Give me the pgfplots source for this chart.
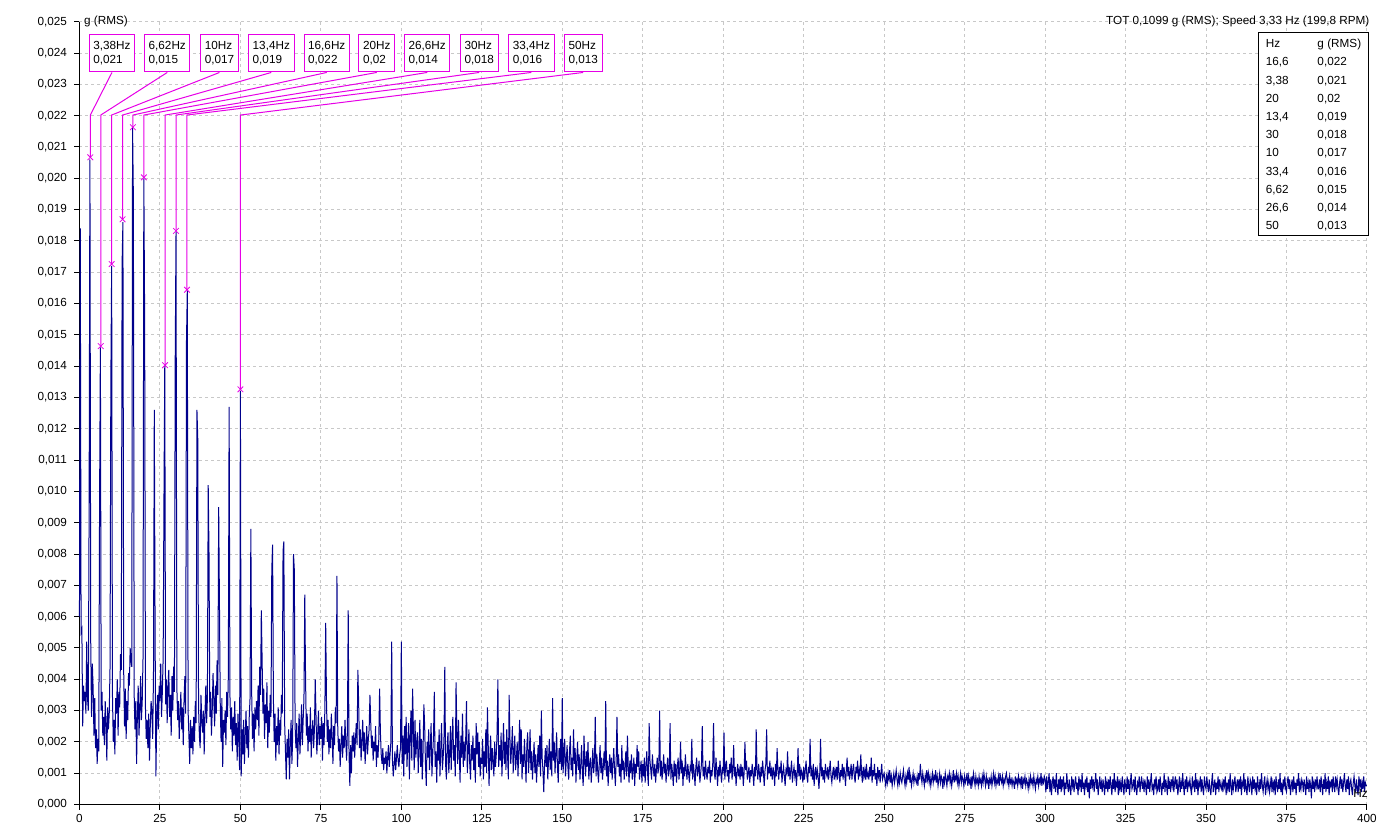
\documentclass[border=0pt]{standalone}
\usepackage{pgfplots}
\usepackage{pgfplotstable}
\pgfplotsset{compat=1.18}
\usepackage{fontspec}
\setmainfont{Liberation Sans}
\definecolor{specblue}{RGB}{0,0,140}
\definecolor{mag}{RGB}{230,0,230}
\definecolor{gridc}{RGB}{200,200,200}
\newcommand\cf{\fontsize{8.8}{10.7}\selectfont}
% spectrum, 0.25 Hz bins from 0 to 400 Hz, values in units of 1e-4 g (RMS)
\pgfplotstableread[row sep=\\]{
y\\
60\\184\\55\\56\\25\\38\\33\\36\\29\\52\\34\\30\\95\\206\\52\\28\\45\\37\\22\\34\\
18\\24\\13\\21\\17\\97\\146\\30\\36\\22\\28\\19\\33\\26\\14\\31\\24\\29\\44\\135\\
172\\35\\20\\27\\16\\34\\29\\40\\22\\36\\31\\48\\43\\173\\186\\42\\25\\37\\21\\33\\
27\\42\\38\\50\\46\\44\\216\\194\\35\\24\\33\\13\\29\\38\\22\\30\\41\\27\\33\\47\\
200\\155\\31\\21\\27\\18\\29\\14\\25\\33\\30\\21\\42\\126\\54\\9\\27\\35\\24\\38\\
33\\45\\28\\36\\47\\97\\140\\32\\40\\26\\38\\43\\28\\35\\22\\41\\30\\44\\36\\142\\
183\\38\\27\\33\\21\\29\\36\\24\\31\\19\\34\\41\\29\\148\\164\\30\\22\\13\\27\\18\\
25\\16\\28\\20\\33\\26\\126\\117\\31\\22\\18\\35\\27\\23\\30\\16\\29\\38\\26\\34\\
102\\80\\28\\36\\22\\30\\42\\33\\25\\38\\29\\46\\35\\95\\63\\31\\20\\34\\12\\27\\
23\\30\\19\\36\\28\\41\\127\\35\\24\\31\\17\\28\\22\\33\\19\\26\\14\\29\\21\\11\\
132\\9\\24\\16\\27\\13\\22\\30\\18\\25\\15\\28\\34\\88\\36\\21\\29\\17\\31\\24\\
33\\27\\38\\22\\44\\35\\62\\46\\29\\37\\21\\32\\26\\39\\18\\30\\23\\35\\28\\75\\
83\\34\\20\\29\\14\\25\\19\\31\\16\\27\\22\\35\\29\\81\\84\\26\\17\\8\\21\\15\\
24\\8\\19\\27\\13\\22\\80\\75\\25\\18\\26\\12\\21\\29\\16\\23\\32\\19\\27\\34\\
67\\40\\22\\29\\17\\25\\20\\31\\15\\23\\27\\18\\24\\40\\28\\16\\22\\30\\19\\25\\
21\\28\\14\\26\\19\\31\\58\\33\\20\\27\\16\\24\\18\\29\\22\\13\\25\\19\\31\\26\\
73\\24\\17\\21\\12\\19\\25\\15\\22\\18\\27\\20\\14\\24\\62\\16\\6\\19\\10\\22\\
17\\23\\15\\21\\26\\19\\43\\32\\18\\24\\14\\20\\27\\17\\23\\13\\19\\25\\16\\21\\
24\\35\\26\\18\\22\\14\\20\\17\\25\\12\\19\\15\\21\\37\\23\\16\\13\\18\\11\\15\\
13\\17\\10\\15\\19\\12\\16\\20\\52\\14\\9\\13\\17\\11\\15\\19\\14\\12\\16\\18\\
52\\13\\22\\9\\25\\16\\28\\12\\19\\26\\8\\22\\30\\14\\37\\24\\11\\27\\15\\20\\
23\\10\\18\\27\\12\\21\\8\\17\\32\\25\\13\\6\\20\\15\\24\\11\\18\\26\\9\\16\\
22\\36\\12\\17\\7\\20\\14\\24\\9\\18\\26\\11\\15\\21\\44\\13\\8\\19\\23\\10\\
16\\25\\11\\21\\28\\14\\19\\9\\39\\23\\13\\27\\17\\7\\22\\15\\29\\12\\20\\14\\
21\\33\\10\\17\\24\\13\\8\\19\\14\\22\\11\\18\\7\\26\\16\\23\\12\\20\\9\\15\\
13\\21\\8\\17\\12\\24\\10\\31\\19\\6\\15\\22\\11\\18\\14\\9\\20\\12\\16\\23\\
40\\12\\19\\14\\23\\9\\17\\26\\13\\20\\11\\24\\16\\8\\35\\21\\13\\18\\25\\10\\
17\\22\\11\\15\\20\\9\\18\\27\\13\\24\\8\\16\\12\\21\\14\\7\\19\\23\\10\\15\\
24\\11\\17\\8\\14\\20\\10\\16\\7\\13\\19\\12\\22\\9\\30\\15\\11\\4\\13\\18\\
12\\19\\8\\15\\21\\11\\17\\9\\34\\14\\20\\10\\16\\23\\12\\7\\18\\13\\21\\11\\
34\\10\\16\\21\\9\\14\\19\\12\\8\\17\\22\\11\\15\\9\\24\\13\\18\\7\\14\\20\\
11\\16\\8\\13\\19\\10\\6\\22\\14\\9\\17\\12\\20\\8\\13\\15\\7\\12\\18\\10\\
14\\28\\9\\16\\11\\7\\13\\19\\10\\15\\8\\12\\17\\11\\33\\9\\14\\6\\12\\16\\
10\\15\\8\\13\\18\\11\\6\\14\\28\\12\\16\\9\\13\\7\\19\\11\\14\\8\\12\\17\\
9\\22\\12\\7\\14\\10\\16\\8\\11\\15\\6\\13\\10\\19\\12\\17\\8\\11\\14\\7\\
13\\9\\15\\7\\12\\17\\10\\6\\26\\14\\11\\8\\16\\12\\9\\13\\7\\11\\15\\10\\
12\\30\\9\\14\\8\\11\\16\\10\\13\\7\\12\\15\\9\\11\\26\\8\\13\\10\\6\\14\\
9\\13\\7\\12\\15\\8\\11\\20\\10\\14\\6\\12\\9\\16\\11\\8\\13\\10\\7\\12\\
11\\21\\8\\13\\10\\6\\12\\15\\9\\11\\14\\7\\10\\13\\25\\9\\12\\8\\14\\10\\
8\\12\\10\\14\\7\\11\\9\\13\\26\\10\\8\\15\\11\\6\\12\\9\\14\\10\\7\\12\\
10\\23\\8\\12\\14\\9\\11\\7\\13\\10\\15\\8\\11\\19\\9\\12\\6\\10\\13\\9\\
11\\8\\13\\9\\12\\6\\10\\20\\11\\14\\8\\10\\12\\7\\11\\9\\13\\10\\6\\12\\
9\\24\\11\\8\\13\\10\\7\\12\\9\\14\\10\\6\\11\\13\\24\\8\\12\\10\\14\\9\\
11\\8\\12\\10\\6\\13\\9\\18\\11\\8\\12\\10\\14\\7\\10\\12\\9\\6\\11\\10\\
17\\9\\12\\8\\11\\14\\7\\10\\12\\9\\11\\6\\10\\18\\9\\13\\8\\11\\10\\7\\
12\\8\\11\\14\\9\\7\\12\\10\\21\\9\\11\\8\\13\\6\\10\\12\\8\\11\\9\\5\\
10\\21\\9\\12\\8\\11\\7\\13\\10\\9\\12\\8\\11\\14\\9\\7\\10\\12\\8\\11\\
9\\12\\8\\14\\10\\7\\11\\9\\13\\8\\12\\10\\6\\11\\15\\9\\12\\8\\10\\13\\
8\\11\\13\\9\\7\\12\\10\\14\\8\\11\\9\\16\\10\\7\\12\\9\\11\\8\\13\\9\\
10\\8\\12\\9\\15\\7\\11\\9\\13\\8\\10\\6\\12\\9\\11\\7\\10\\13\\8\\9\\
10\\8\\6\\9\\7\\10\\8\\11\\7\\9\\6\\8\\10\\7\\9\\11\\8\\6\\9\\7\\
10\\8\\7\\9\\11\\8\\6\\9\\7\\10\\8\\12\\7\\9\\6\\8\\10\\7\\9\\8\\
7\\9\\6\\10\\8\\13\\9\\7\\10\\8\\6\\9\\7\\11\\8\\10\\7\\9\\6\\8\\
10\\7\\9\\8\\11\\7\\9\\6\\8\\10\\7\\9\\8\\5\\9\\7\\10\\8\\6\\9\\
8\\10\\7\\9\\6\\8\\11\\7\\9\\8\\10\\7\\9\\6\\8\\10\\7\\9\\8\\6\\
9\\7\\8\\10\\6\\9\\7\\8\\5\\9\\7\\10\\8\\6\\9\\7\\8\\6\\9\\7\\
8\\6\\9\\7\\10\\8\\6\\9\\7\\8\\5\\8\\7\\9\\6\\8\\10\\7\\9\\6\\
8\\7\\9\\6\\10\\8\\7\\9\\6\\8\\7\\9\\10\\7\\8\\6\\9\\7\\8\\6\\
8\\7\\5\\9\\7\\8\\6\\9\\7\\8\\6\\9\\5\\8\\7\\9\\6\\8\\7\\5\\
8\\6\\9\\7\\8\\6\\9\\7\\5\\8\\7\\9\\6\\8\\7\\10\\6\\8\\7\\9\\
8\\4\\9\\5\\7\\10\\4\\8\\3\\7\\9\\5\\8\\4\\10\\6\\3\\8\\5\\9\\
4\\8\\6\\9\\3\\7\\5\\10\\6\\4\\8\\5\\3\\9\\6\\8\\4\\7\\9\\5\\
7\\3\\9\\6\\8\\4\\10\\5\\7\\3\\8\\6\\9\\4\\7\\2\\8\\5\\9\\6\\
8\\4\\7\\10\\5\\8\\3\\6\\9\\5\\7\\4\\8\\6\\3\\9\\5\\7\\4\\8\\
5\\9\\6\\3\\8\\5\\10\\4\\7\\6\\9\\3\\8\\5\\7\\4\\9\\6\\3\\8\\
6\\4\\9\\5\\8\\3\\7\\10\\5\\6\\8\\4\\9\\5\\3\\7\\6\\9\\4\\7\\
9\\5\\7\\4\\8\\6\\3\\9\\5\\8\\4\\7\\10\\5\\6\\3\\8\\6\\9\\4\\
5\\8\\4\\9\\6\\3\\7\\5\\10\\4\\8\\6\\3\\9\\5\\7\\4\\8\\6\\9\\
4\\7\\9\\5\\8\\3\\6\\9\\4\\7\\5\\10\\6\\3\\8\\5\\9\\4\\7\\6\\
8\\5\\3\\9\\6\\7\\4\\10\\5\\8\\3\\7\\6\\9\\4\\8\\5\\3\\9\\6\\
5\\9\\6\\4\\8\\5\\3\\7\\10\\4\\6\\8\\3\\7\\5\\9\\4\\8\\6\\5\\
7\\4\\8\\6\\9\\3\\7\\5\\8\\4\\10\\6\\3\\8\\5\\7\\9\\4\\6\\8\\
4\\8\\5\\9\\3\\7\\6\\10\\4\\8\\5\\3\\9\\6\\4\\8\\7\\3\\9\\5\\
8\\5\\7\\3\\9\\6\\4\\8\\5\\10\\6\\4\\7\\9\\3\\6\\8\\5\\7\\4\\
6\\9\\4\\7\\5\\8\\3\\9\\6\\4\\8\\5\\10\\4\\7\\3\\8\\6\\9\\5\\
4\\7\\9\\5\\8\\3\\6\\8\\4\\9\\5\\7\\3\\8\\6\\10\\4\\7\\5\\8\\
7\\4\\8\\6\\3\\9\\5\\7\\4\\8\\6\\2\\9\\5\\7\\4\\8\\6\\9\\5\\
5\\8\\4\\9\\6\\3\\8\\5\\10\\4\\7\\5\\9\\3\\7\\6\\8\\4\\9\\6\\
4\\9\\6\\8\\5\\3\\7\\9\\5\\8\\4\\7\\10\\6\\4\\8\\5\\9\\3\\7\\
8\\5\\3\\7\\9\\6\\4\\8\\5\\3\\9\\6\\8\\4\\7\\5\\9\\4\\7\\6\\
6\\
}\spectrum
\begin{document}
\begin{tikzpicture}
\path[use as bounding box] (-59.6pt,-20.6pt) rectangle (982.15pt,603.4pt);
\begin{axis}[
  at={(0,0)}, anchor=south west,
  scale only axis, width=965.6pt, height=587.1pt,
  xmin=0, xmax=400, ymin=0, ymax=250,
  axis x line=bottom, axis y line=left,
  axis line style={-, black, line width=0.75pt},
  xtick={0,25,...,400},
  xticklabels={0,25,50,75,100,125,150,175,200,225,250,275,300,325,350,375,400},
  ytick={0,10,...,250},
  yticklabels={{0,000},{0,001},{0,002},{0,003},{0,004},{0,005},{0,006},{0,007},{0,008},{0,009},{0,010},{0,011},{0,012},{0,013},{0,014},{0,015},{0,016},{0,017},{0,018},{0,019},{0,020},{0,021},{0,022},{0,023},{0,024},{0,025}},
  tick align=outside, major tick length=4pt,
  tick style={black, line width=0.75pt},
  xticklabel style={font=\cf},
  yticklabel style={font=\cf, xshift=-1.9pt},
  grid=major,
  major grid style={gridc, dash pattern=on 2.25pt off 2.25pt, line width=0.75pt},
  clip=false,
]
\addplot[specblue, line width=0.75pt, forget plot] table[x expr=\coordindex*0.25, y index=0] {\spectrum};
% leader lines
\addplot[mag, line width=0.75pt, forget plot] coordinates {(10.1,233.8) (3.38,220.2) (3.38,206.7)};
\addplot[mag, line width=0.75pt, forget plot] coordinates {(27.28,233.8) (6.62,220.2) (6.62,146.4)};
\addplot[mag, line width=0.75pt, forget plot] coordinates {(43.5,233.8) (10,220.2) (10,172.6)};
\addplot[mag, line width=0.75pt, forget plot] coordinates {(59.6,233.8) (13.4,220.2) (13.4,186.9)};
\addplot[mag, line width=0.75pt, forget plot] coordinates {(76.83,233.8) (16.6,220.2) (16.6,216.3)};
\addplot[mag, line width=0.75pt, forget plot] coordinates {(92.37,233.8) (20,220.2) (20,200.3)};
\addplot[mag, line width=0.75pt, forget plot] coordinates {(108.05,233.8) (26.6,220.2) (26.6,140.3)};
\addplot[mag, line width=0.75pt, forget plot] coordinates {(124.2,233.8) (30,220.2) (30,183.2)};
\addplot[mag, line width=0.75pt, forget plot] coordinates {(140.4,233.8) (33.4,220.2) (33.4,164.4)};
\addplot[mag, line width=0.75pt, forget plot] coordinates {(156.5,233.8) (50,220.2) (50,132.6)};
% peak markers
\addplot[only marks, mark=x, mark size=3pt, mag, line width=0.6pt, forget plot] coordinates {
(3.38,206.7) (6.62,146.4) (10,172.6) (13.4,186.9) (16.6,216.3) (20,200.3) (26.6,140.3) (30,183.2) (33.4,164.4) (50,132.6)};
% label boxes
\tikzset{pk/.style={draw=mag, fill=white, line width=0.75pt, anchor=south, align=left, inner xsep=3.1pt, inner ysep=0pt, minimum height=27.75pt, font=\cf}}
\node[pk] at (axis cs:10.1,233.8) {3,38Hz\\0,021};
\node[pk] at (axis cs:27.28,233.8) {6,62Hz\\0,015};
\node[pk] at (axis cs:43.5,233.8) {10Hz\\0,017};
\node[pk] at (axis cs:59.6,233.8) {13,4Hz\\0,019};
\node[pk] at (axis cs:76.83,233.8) {16,6Hz\\0,022};
\node[pk] at (axis cs:92.37,233.8) {20Hz\\0,02};
\node[pk] at (axis cs:108.05,233.8) {26,6Hz\\0,014};
\node[pk] at (axis cs:124.2,233.8) {30Hz\\0,018};
\node[pk] at (axis cs:140.4,233.8) {33,4Hz\\0,016};
\node[pk] at (axis cs:156.5,233.8) {50Hz\\0,013};
% texts
\node[anchor=west, font=\cf] at (axis cs:0,250) {g (RMS)};
\node[anchor=east, font=\cf, xshift=5.4pt] at (axis cs:400,250) {TOT 0,1099 g (RMS); Speed 3,33 Hz (199,8 RPM)};
\node[font=\cf] at (axis cs:398,3.6) {Hz};
% peak table
\draw[black, line width=0.75pt, fill=white] (axis cs:366.35,181.6) rectangle (axis cs:400.4,246.5);
\node[anchor=north west, inner sep=0pt, xshift=5.25pt, yshift=-1.55pt, font=\fontsize{8.8}{13.65}\selectfont] at (axis cs:366.35,246.5) {%
\begin{tabular}{@{}p{38.7pt}@{}l@{}}
Hz & g (RMS)\\
16,6 & 0,022\\
3,38 & 0,021\\
20 & 0,02\\
13,4 & 0,019\\
30 & 0,018\\
10 & 0,017\\
33,4 & 0,016\\
6,62 & 0,015\\
26,6 & 0,014\\
50 & 0,013\\
\end{tabular}};
\end{axis}
\end{tikzpicture}
\end{document}
